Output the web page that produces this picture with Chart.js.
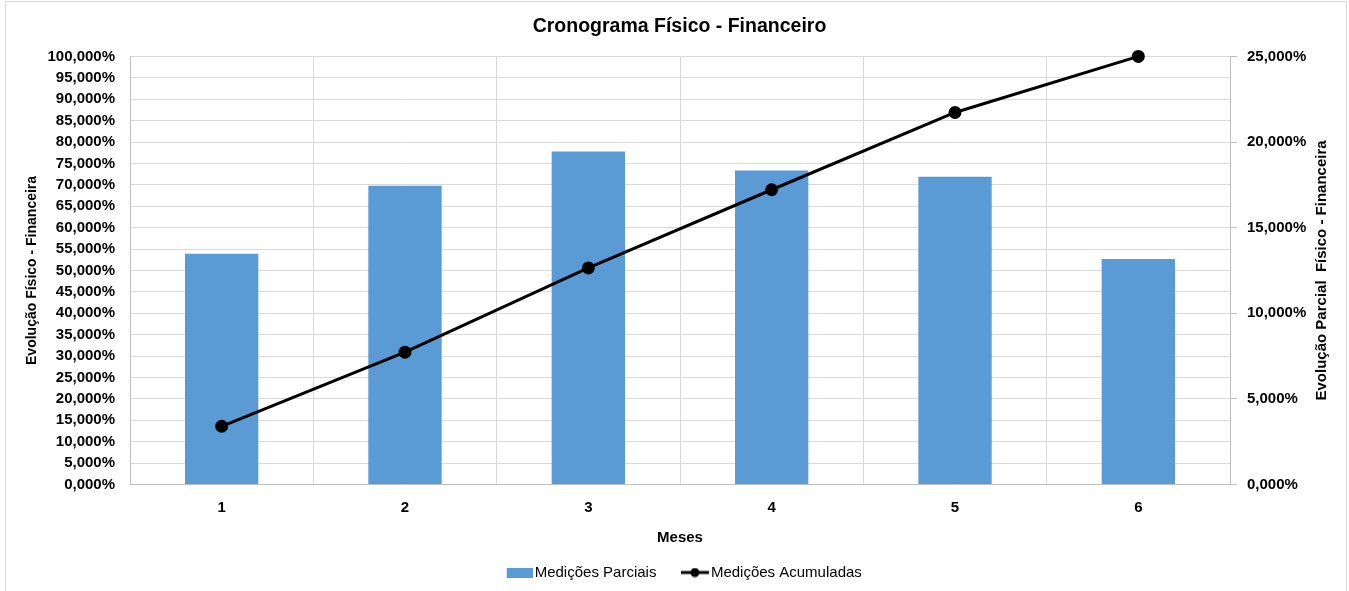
<!DOCTYPE html>
<html>
<head>
<meta charset="utf-8">
<script src="https://cdn.jsdelivr.net/npm/chart.js@4"></script>
<style>
html,body{margin:0;padding:0;background:#fff;}
#wrap{width:1349px;height:591px;position:relative;}
</style>
</head>
<body>
<div id="wrap"><canvas id="c" width="1349" height="591"></canvas></div>
<script>
const categories = ['1', '2', '3', '4', '5', '6'];
const parciais = [13.47, 17.45, 19.44, 18.33, 17.97, 13.17];
const acumuladas = [13.6, 30.9, 50.6, 68.85, 86.9, 100.0];
const leftTicksMax = 100;
const rightTicksMax = 25;
const rightTitle = 'Evolução Parcial  Físico - Financeira';

const FONT = "'Liberation Sans Narrow', 'Arial Narrow', 'Liberation Sans', Arial, sans-serif";
const fmt = v => Number(v).toFixed(3).replace('.', ',') + '%';

function barSwatch() {
  const c = document.createElement('canvas');
  c.width = 41; c.height = 10;
  const x = c.getContext('2d');
  x.fillStyle = '#5b9bd5';
  x.fillRect(15, 0, 26, 10);
  return c;
}
function lineSwatch() {
  const c = document.createElement('canvas');
  c.width = 41; c.height = 10;
  const x = c.getContext('2d');
  x.strokeStyle = '#000'; x.lineWidth = 3;
  x.beginPath(); x.moveTo(13, 5); x.lineTo(41, 5); x.stroke();
  x.fillStyle = '#000';
  x.beginPath(); x.arc(27, 5, 4.5, 0, Math.PI * 2); x.fill();
  return c;
}

const bgPlugin = {
  id: 'bg',
  beforeDraw(chart) {
    const ctx = chart.ctx;
    ctx.save();
    ctx.fillStyle = '#fff';
    ctx.fillRect(0, 0, chart.width, chart.height);
    ctx.strokeStyle = '#d9d9d9';
    ctx.lineWidth = 1;
    ctx.strokeRect(5.5, 1.5, 1341, 600);
    ctx.restore();
  },
  afterDraw(chart) {
    const ctx = chart.ctx;
    const a = chart.chartArea;
    ctx.save();
    ctx.translate(1322, (a.top + a.bottom) / 2);
    ctx.rotate(-Math.PI / 2);
    ctx.fillStyle = '#000';
    ctx.font = 'bold 15px ' + FONT;
    ctx.textAlign = 'center';
    ctx.textBaseline = 'middle';
    ctx.fillText(rightTitle, 0, 0);
    ctx.restore();
  }
};

const tickFont = { family: FONT, size: 15, weight: 'bold' };

new Chart(document.getElementById('c'), {
  data: {
    labels: categories,
    datasets: [
      {
        type: 'bar',
        label: 'Medições Parciais',
        data: parciais,
        yAxisID: 'y1',
        backgroundColor: '#5b9bd5',
        borderWidth: 0,
        barPercentage: 0.4,
        categoryPercentage: 1.0,
        order: 1
      },
      {
        type: 'line',
        label: 'Medições Acumuladas',
        data: acumuladas,
        yAxisID: 'y',
        borderColor: '#000',
        backgroundColor: '#000',
        borderWidth: 3,
        pointRadius: 5,
        pointHoverRadius: 5,
        pointBackgroundColor: '#000',
        tension: 0,
        clip: false,
        order: 0
      }
    ]
  },
  options: {
    responsive: false,
    animation: false,
    devicePixelRatio: 1,
    layout: { padding: { left: 10, right: 0, top: 0, bottom: 1 } },
    plugins: {
      title: {
        display: true,
        text: 'Cronograma Físico - Financeiro',
        color: '#000',
        font: { family: FONT, size: 19.5, weight: 'bold' },
        padding: { top: 15, bottom: 18 }
      },
      legend: {
        position: 'bottom',
        labels: {
          usePointStyle: true,
          pointStyleWidth: 30,
          color: '#000',
          font: { family: FONT, size: 15 },
          padding: 17,
          generateLabels(chart) {
            return [
              { text: 'Medições Parciais', pointStyle: barSwatch(), fillStyle: '#5b9bd5', strokeStyle: '#5b9bd5', lineWidth: 0, datasetIndex: 0, hidden: false, fontColor: '#000' },
              { text: 'Medições Acumuladas', pointStyle: lineSwatch(), fillStyle: '#000', strokeStyle: '#000', lineWidth: 0, datasetIndex: 1, hidden: false, fontColor: '#000' }
            ];
          }
        }
      },
      tooltip: { enabled: false }
    },
    scales: {
      x: {
        offset: true,
        grid: { display: true, offset: true, color: '#d9d9d9', drawTicks: false },
        border: { color: '#bfbfbf' },
        ticks: { color: '#000', font: tickFont, padding: 14 },
        title: { display: true, text: 'Meses', color: '#000', font: tickFont, padding: { top: 0, bottom: 1 } },
        afterFit(s) { s.height = 63.5; }
      },
      y: {
        position: 'left',
        min: 0, max: leftTicksMax,
        afterBuildTicks(s) { s.ticks = []; for (let v = 0; v <= leftTicksMax; v += 5) s.ticks.push({ value: v }); },
        ticks: { autoSkip: false, stepSize: 5, color: '#000', callback: fmt, font: tickFont, padding: 15 },
        grid: { color: '#d9d9d9', drawTicks: false },
        border: { color: '#bfbfbf' },
        title: { display: true, text: 'Evolução Físico - Financeira', color: '#000', font: { family: FONT, size: 14, weight: 'bold' }, padding: { top: 14, bottom: 0 } },
        afterFit(s) { s.width = 120; }
      },
      y1: {
        position: 'right',
        min: 0, max: rightTicksMax,
        ticks: { stepSize: 5, color: '#000', callback: fmt, font: tickFont, padding: 10 },
        grid: { drawOnChartArea: false, color: '#bfbfbf', tickLength: 7 },
        border: { color: '#bfbfbf' },
        afterFit(s) { s.width = 119; }
      }
    }
  },
  plugins: [bgPlugin]
});
</script>
</body>
</html>
